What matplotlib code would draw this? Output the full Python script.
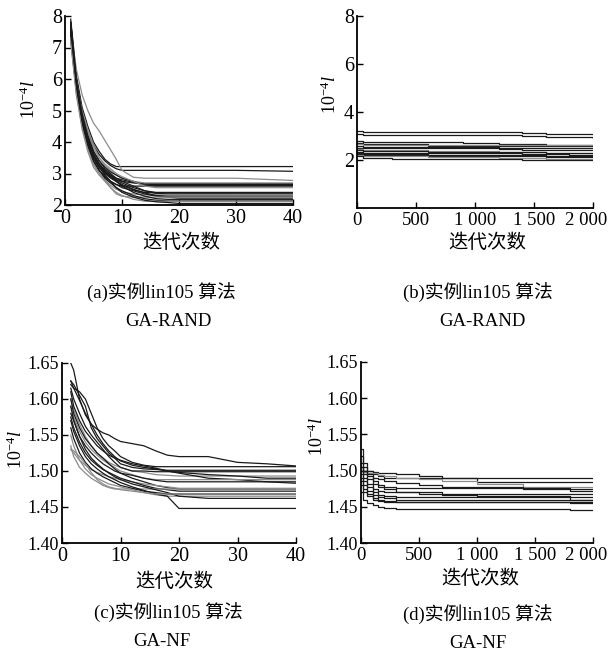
# GA convergence curves, instance lin105 (GA-RAND vs GA-NF)
import matplotlib
matplotlib.use("Agg")
import matplotlib.pyplot as plt
from matplotlib.transforms import ScaledTranslation

plt.rcParams['font.family'] = ['Liberation Serif', 'Noto Sans CJK SC']
plt.rcParams['mathtext.fontset'] = 'custom'
plt.rcParams['mathtext.rm'] = 'Liberation Serif'
plt.rcParams['mathtext.it'] = 'Liberation Serif:italic'

K = '#1a1a1a'
G = '#8c8c8c'

# ---- (a) GA-RAND, first 40 iterations
xa = [1, 2, 3, 4, 5, 6, 7, 8, 9, 10, 12, 14, 16, 18, 20, 30, 40]
ya = [
    (K, [7.9, 6.1, 5.1, 4.5, 4.0, 3.7, 3.45, 3.30, 3.22, 3.22, 3.22, 3.22, 3.22, 3.22, 3.22, 3.22, 3.22]),
    (K, [7.8, 6.0, 5.0, 4.3, 3.9, 3.6, 3.40, 3.25, 3.15, 3.10, 3.10, 3.10, 3.10, 3.10, 3.10, 3.10, 3.07]),
    (G, [7.6, 6.3, 5.5, 5.0, 4.6, 4.35, 4.05, 3.75, 3.45, 3.10, 2.88, 2.85, 2.85, 2.85, 2.85, 2.85, 2.78]),
    (K, [7.7, 5.8, 4.8, 4.1, 3.6, 3.3, 3.10, 2.95, 2.85, 2.80, 2.72, 2.68, 2.68, 2.68, 2.68, 2.68, 2.68]),
    (K, [7.5, 5.7, 4.7, 4.0, 3.5, 3.2, 3.00, 2.90, 2.80, 2.75, 2.70, 2.66, 2.65, 2.65, 2.65, 2.65, 2.65]),
    (G, [7.4, 5.9, 5.0, 4.4, 3.9, 3.5, 3.25, 3.10, 2.95, 2.85, 2.75, 2.70, 2.70, 2.70, 2.70, 2.70, 2.70]),
    (K, [7.8, 6.0, 4.9, 4.2, 3.7, 3.4, 3.20, 3.05, 2.95, 2.85, 2.75, 2.62, 2.62, 2.62, 2.62, 2.62, 2.62]),
    (K, [7.3, 5.6, 4.6, 3.9, 3.4, 3.1, 2.90, 2.75, 2.65, 2.60, 2.60, 2.60, 2.60, 2.60, 2.60, 2.60, 2.60]),
    (G, [7.6, 5.9, 4.9, 4.3, 3.8, 3.5, 3.30, 3.15, 3.00, 2.90, 2.75, 2.60, 2.55, 2.55, 2.55, 2.55, 2.55]),
    (K, [7.5, 5.8, 4.8, 4.1, 3.6, 3.3, 3.10, 2.95, 2.80, 2.70, 2.55, 2.45, 2.40, 2.40, 2.40, 2.40, 2.40]),
    (K, [7.7, 5.9, 4.9, 4.2, 3.7, 3.4, 3.15, 3.00, 2.85, 2.75, 2.60, 2.45, 2.37, 2.35, 2.35, 2.35, 2.35]),
    (G, [7.2, 5.5, 4.5, 3.8, 3.3, 3.0, 2.80, 2.62, 2.50, 2.42, 2.35, 2.32, 2.32, 2.32, 2.32, 2.32, 2.32]),
    (K, [7.6, 5.8, 4.7, 4.0, 3.5, 3.2, 3.00, 2.85, 2.75, 2.65, 2.50, 2.38, 2.30, 2.28, 2.28, 2.28, 2.28]),
    (K, [7.4, 5.7, 4.6, 3.9, 3.4, 3.1, 2.90, 2.75, 2.65, 2.55, 2.45, 2.35, 2.28, 2.25, 2.22, 2.22, 2.22]),
    (G, [7.3, 5.6, 4.5, 3.8, 3.3, 3.0, 2.78, 2.55, 2.35, 2.28, 2.25, 2.25, 2.25, 2.25, 2.25, 2.25, 2.25]),
    (K, [7.8, 5.9, 4.8, 4.1, 3.6, 3.3, 3.05, 2.90, 2.75, 2.60, 2.40, 2.28, 2.20, 2.18, 2.18, 2.18, 2.18]),
    (K, [7.5, 5.7, 4.6, 3.9, 3.4, 3.1, 2.85, 2.70, 2.55, 2.45, 2.30, 2.20, 2.15, 2.13, 2.13, 2.13, 2.13]),
    (G, [7.2, 5.5, 4.4, 3.7, 3.2, 2.95, 2.75, 2.55, 2.40, 2.30, 2.18, 2.12, 2.12, 2.12, 2.12, 2.12, 2.12]),
    (K, [7.6, 5.8, 4.7, 4.0, 3.5, 3.2, 2.95, 2.75, 2.55, 2.40, 2.25, 2.15, 2.10, 2.08, 2.05, 2.05, 2.05]),
    (K, [7.7, 5.9, 4.8, 4.1, 3.6, 3.25, 3.05, 2.90, 2.75, 2.62, 2.48, 2.40, 2.38, 2.38, 2.38, 2.38, 2.38]),
]

# ---- (b) GA-RAND, 2000 iterations
xb = [0, 50, 300, 600, 900, 1200, 1400, 1600, 1800, 2000]
yb = [
    (K, [3.20, 3.17, 3.17, 3.17, 3.17, 3.15, 3.12, 3.10, 3.10, 3.10]),
    (K, [3.10, 3.05, 3.05, 3.05, 3.05, 3.05, 3.00, 2.95, 2.95, 2.90]),
    (K, [2.80, 2.75, 2.75, 2.75, 2.72, 2.65, 2.65, 2.62, 2.62, 2.62]),
    (K, [2.70, 2.65, 2.65, 2.60, 2.60, 2.60, 2.60, 2.58, 2.58, 2.58]),
    (G, [2.65, 2.62, 2.62, 2.62, 2.62, 2.62, 2.62, 2.62, 2.62, 2.62]),
    (K, [2.60, 2.55, 2.55, 2.55, 2.55, 2.52, 2.52, 2.52, 2.50, 2.50]),
    (K, [2.50, 2.48, 2.48, 2.48, 2.48, 2.45, 2.42, 2.40, 2.40, 2.40]),
    (G, [2.45, 2.42, 2.40, 2.38, 2.36, 2.33, 2.33, 2.30, 2.28, 2.28]),
    (K, [2.40, 2.38, 2.38, 2.35, 2.35, 2.35, 2.32, 2.30, 2.30, 2.30]),
    (K, [2.35, 2.30, 2.30, 2.30, 2.28, 2.28, 2.25, 2.25, 2.22, 2.22]),
    (K, [2.30, 2.25, 2.25, 2.22, 2.22, 2.20, 2.20, 2.18, 2.18, 2.18]),
    (K, [2.25, 2.20, 2.20, 2.18, 2.18, 2.15, 2.15, 2.12, 2.12, 2.12]),
    (G, [2.20, 2.15, 2.15, 2.12, 2.12, 2.10, 2.10, 2.05, 2.05, 2.05]),
    (K, [2.15, 2.10, 2.05, 2.05, 2.05, 2.05, 2.02, 2.00, 1.98, 1.98]),
]

# ---- (c) GA-NF, first 40 iterations
xc = [1.5, 2, 3, 4, 5, 6, 7, 8, 9, 10, 12, 14, 16, 18, 20, 25, 30, 35, 40]
yc = [
    (K, [1.650, 1.640, 1.600, 1.578, 1.565, 1.558, 1.553, 1.550, 1.545, 1.541, 1.538, 1.535, 1.528, 1.522, 1.520, 1.520, 1.512, 1.510, 1.507]),
    (K, [1.625, 1.620, 1.605, 1.590, 1.560, 1.545, 1.535, 1.525, 1.518, 1.510, 1.505, 1.503, 1.502, 1.501, 1.501, 1.501, 1.501, 1.501, 1.501]),
    (K, [1.620, 1.615, 1.610, 1.600, 1.580, 1.560, 1.545, 1.535, 1.528, 1.520, 1.512, 1.508, 1.506, 1.506, 1.506, 1.506, 1.506, 1.506, 1.506]),
    (G, [1.600, 1.585, 1.565, 1.548, 1.535, 1.525, 1.518, 1.512, 1.508, 1.505, 1.500, 1.498, 1.495, 1.494, 1.493, 1.493, 1.493, 1.493, 1.493]),
    (K, [1.615, 1.600, 1.580, 1.562, 1.550, 1.540, 1.530, 1.520, 1.512, 1.505, 1.500, 1.500, 1.499, 1.499, 1.499, 1.499, 1.499, 1.499, 1.499]),
    (K, [1.610, 1.590, 1.570, 1.555, 1.545, 1.535, 1.528, 1.522, 1.518, 1.515, 1.510, 1.507, 1.504, 1.500, 1.497, 1.490, 1.488, 1.485, 1.483]),
    (G, [1.590, 1.575, 1.555, 1.540, 1.530, 1.522, 1.515, 1.510, 1.505, 1.500, 1.495, 1.490, 1.488, 1.488, 1.488, 1.488, 1.488, 1.488, 1.488]),
    (K, [1.580, 1.570, 1.548, 1.535, 1.525, 1.517, 1.510, 1.505, 1.500, 1.497, 1.494, 1.490, 1.487, 1.485, 1.485, 1.485, 1.485, 1.485, 1.485]),
    (K, [1.600, 1.580, 1.560, 1.545, 1.535, 1.525, 1.518, 1.510, 1.503, 1.497, 1.490, 1.485, 1.480, 1.477, 1.475, 1.475, 1.475, 1.475, 1.475]),
    (G, [1.530, 1.525, 1.515, 1.508, 1.502, 1.498, 1.495, 1.492, 1.490, 1.488, 1.485, 1.482, 1.480, 1.478, 1.476, 1.476, 1.476, 1.476, 1.476]),
    (K, [1.575, 1.560, 1.540, 1.525, 1.515, 1.508, 1.502, 1.498, 1.494, 1.490, 1.485, 1.480, 1.476, 1.474, 1.472, 1.472, 1.472, 1.472, 1.472]),
    (G, [1.535, 1.520, 1.505, 1.497, 1.490, 1.485, 1.480, 1.477, 1.475, 1.475, 1.475, 1.475, 1.475, 1.475, 1.475, 1.475, 1.475, 1.475, 1.475]),
    (K, [1.560, 1.545, 1.525, 1.512, 1.503, 1.497, 1.492, 1.488, 1.484, 1.480, 1.476, 1.472, 1.470, 1.468, 1.468, 1.468, 1.468, 1.468, 1.468]),
    (G, [1.550, 1.535, 1.515, 1.503, 1.495, 1.490, 1.486, 1.482, 1.480, 1.478, 1.474, 1.470, 1.467, 1.465, 1.465, 1.465, 1.465, 1.465, 1.465]),
    (K, [1.590, 1.570, 1.548, 1.530, 1.518, 1.510, 1.503, 1.497, 1.492, 1.488, 1.482, 1.478, 1.474, 1.470, 1.465, 1.462, 1.462, 1.462, 1.462]),
    (K, [1.570, 1.555, 1.535, 1.520, 1.510, 1.503, 1.497, 1.492, 1.488, 1.484, 1.478, 1.473, 1.468, 1.465, 1.448, 1.448, 1.448, 1.448, 1.448]),
    (G, [1.530, 1.528, 1.520, 1.510, 1.498, 1.488, 1.482, 1.478, 1.476, 1.474, 1.472, 1.470, 1.468, 1.468, 1.468, 1.468, 1.468, 1.468, 1.468]),
    (K, [1.625, 1.615, 1.598, 1.580, 1.565, 1.550, 1.538, 1.528, 1.520, 1.514, 1.508, 1.505, 1.503, 1.500, 1.498, 1.495, 1.493, 1.490, 1.490]),
]

# ---- (d) GA-NF, 2000 iterations
xd = [0, 20, 50, 100, 150, 200, 300, 500, 700, 1000, 1400, 1800, 2000]
yd = [
    (K, [1.530, 1.510, 1.500, 1.495, 1.492, 1.490, 1.490, 1.490, 1.490, 1.490, 1.490, 1.490, 1.490]),
    (K, [1.520, 1.505, 1.500, 1.498, 1.497, 1.496, 1.495, 1.493, 1.490, 1.484, 1.484, 1.484, 1.484]),
    (G, [1.500, 1.498, 1.497, 1.496, 1.494, 1.492, 1.490, 1.488, 1.485, 1.481, 1.478, 1.478, 1.478]),
    (K, [1.510, 1.500, 1.495, 1.490, 1.488, 1.486, 1.483, 1.480, 1.478, 1.478, 1.475, 1.475, 1.475]),
    (K, [1.505, 1.495, 1.488, 1.482, 1.480, 1.478, 1.476, 1.476, 1.476, 1.476, 1.476, 1.472, 1.472]),
    (K, [1.500, 1.490, 1.482, 1.475, 1.472, 1.470, 1.470, 1.470, 1.468, 1.468, 1.468, 1.468, 1.468]),
    (K, [1.495, 1.485, 1.478, 1.470, 1.466, 1.465, 1.464, 1.464, 1.464, 1.463, 1.463, 1.463, 1.463]),
    (K, [1.505, 1.500, 1.492, 1.485, 1.478, 1.474, 1.470, 1.468, 1.466, 1.465, 1.465, 1.460, 1.460]),
    (K, [1.490, 1.480, 1.472, 1.466, 1.463, 1.462, 1.460, 1.460, 1.460, 1.459, 1.459, 1.459, 1.459]),
    (K, [1.485, 1.475, 1.468, 1.462, 1.460, 1.458, 1.457, 1.457, 1.456, 1.456, 1.456, 1.455, 1.455]),
    (K, [1.480, 1.470, 1.465, 1.460, 1.458, 1.457, 1.456, 1.456, 1.456, 1.456, 1.456, 1.456, 1.456]),
    (K, [1.470, 1.460, 1.455, 1.452, 1.450, 1.448, 1.447, 1.447, 1.447, 1.447, 1.447, 1.446, 1.446]),
]

W, H = 611, 659
fig = plt.figure(figsize=(W / 100, H / 100), dpi=100)


def box(l, t, r, b):
    # pixel box -> figure fraction rect
    return [l / W, 1 - b / H, (r - l) / W, (b - t) / H]


def px(x, y):
    return x / W, 1 - y / H


def style(ax, ysize=14, xsize=14.5):
    for s in ['top', 'right']:
        ax.spines[s].set_visible(False)
    for s in ['left', 'bottom']:
        ax.spines[s].set_linewidth(1.3)
    ax.tick_params(direction='in', length=4, width=1.0)
    ax.tick_params(axis='x', pad=3, labelsize=xsize)
    ax.tick_params(axis='y', pad=2, labelsize=ysize)


def squeeze_last(ax):
    # the "2 000" label sits a bit left of its tick in the original
    lab = ax.get_xticklabels()[-1]
    lab.set_transform(lab.get_transform() + ScaledTranslation(-0.07, 0, fig.dpi_scale_trans))


big_x = [0, 500, 1000, 1500, 2000]
big_xl = ['0', '500', '1 000', '1 500', '2 000']
nf_y = [1.40, 1.45, 1.50, 1.55, 1.60, 1.65]
nf_yl = ['1.40', '1.45', '1.50', '1.55', '1.60', '1.65']

axa = fig.add_axes(box(65, 16, 293, 205))
for c, y in ya:
    axa.plot(xa, y, color=c, lw=0.9)
axa.set_xlim(0, 40)
axa.set_ylim(2, 8)
axa.set_xticks([0, 10, 20, 30, 40])
axa.set_yticks([2, 3, 4, 5, 6, 7, 8])
style(axa, 14.5)

axb = fig.add_axes(box(357, 16, 593, 208))
for c, y in yb:
    axb.plot(xb, y, color=c, lw=0.9, drawstyle='steps-post')
axb.set_xlim(0, 2000)
axb.set_ylim(0, 8)
axb.set_xticks(big_x)
axb.set_xticklabels(big_xl)
axb.set_yticks([2, 4, 6, 8])
style(axb, 14.5, 13.5)
squeeze_last(axb)

axc = fig.add_axes(box(62, 363, 296, 543))
for c, y in yc:
    axc.plot(xc, y, color=c, lw=0.9)
axc.set_xlim(0, 40)
axc.set_ylim(1.40, 1.65)
axc.set_xticks([0, 10, 20, 30, 40])
axc.set_yticks(nf_y)
axc.set_yticklabels(nf_yl)
style(axc, 13)

axd = fig.add_axes(box(361, 362, 593, 543))
for c, y in yd:
    axd.plot(xd, y, color=c, lw=0.9, drawstyle='steps-post')
axd.set_xlim(0, 2000)
axd.set_ylim(1.40, 1.65)
axd.set_xticks(big_x)
axd.set_xticklabels(big_xl)
axd.set_yticks(nf_y)
axd.set_yticklabels(nf_yl)
style(axd, 13, 13.5)
squeeze_last(axd)

# y labels
ylab = r'$\mathrm{10}^{-4}l$'
for x, y in [(29, 100), (330, 95), (16, 450), (317, 437)]:
    fig.text(*px(x, y), ylab, rotation=90, ha='center', va='center', fontsize=13)

# x labels
for x, y in [(181, 243), (487, 243), (174, 582), (480, 579)]:
    fig.text(*px(x, y), '迭代次数', ha='center', va='center', fontsize=14)

# captions
caps = [
    (161, 293, '(a)实例lin105 算法', 168, 321, 'GA-RAND'),
    (478, 293, '(b)实例lin105 算法', 482, 321, 'GA-RAND'),
    (168, 613, '(c)实例lin105 算法', 162, 642, 'GA-NF'),
    (478, 615, '(d)实例lin105 算法', 478, 643, 'GA-NF'),
]
for x1, y1, t1, x2, y2, t2 in caps:
    fig.text(*px(x1, y1), t1, ha='center', va='center', fontsize=13.5)
    fig.text(*px(x2, y2), t2, ha='center', va='center', fontsize=13.5)

fig.savefig('out.png', dpi=100)
